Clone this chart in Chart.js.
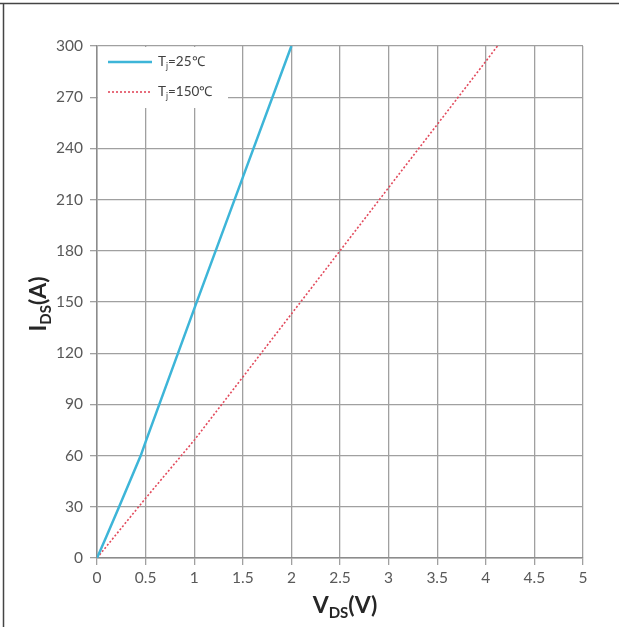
<!DOCTYPE html>
<html>
<head>
<meta charset="utf-8">
<script src="https://cdn.jsdelivr.net/npm/chart.js@4"></script>
<style>
html,body{margin:0;padding:0;background:#fff;}
#wrap{position:relative;width:619px;height:627px;}
canvas{display:block;}
</style>
</head>
<body>
<div id="wrap"><canvas id="c" width="619" height="627"></canvas></div>
<script>
// ---- data ----
const vds25  = [0, 0.1, 0.22, 0.45, 0.5, 1.0, 1.5, 2.0];
const ids25  = [0, 13, 29, 60, 68, 146, 223, 300];
const vds150 = [0, 0.5, 1.0, 1.5, 2.0, 2.5, 3.0, 3.5, 4.0, 4.12];
const ids150 = [0, 35, 69, 106, 143, 180, 217, 254, 291, 300];
const xTicks = [0, 0.5, 1, 1.5, 2, 2.5, 3, 3.5, 4, 4.5, 5];
const yTicks = [0, 30, 60, 90, 120, 150, 180, 210, 240, 270, 300];
const legendLabels = [["T", "j", "=25\u2103"], ["T", "j", "=150\u2103"]];
const xTitle = ["V", "DS", "(V)"];
const yTitle = ["I", "DS", "(A)"];

const FONT = "Lato, 'Open Sans', sans-serif";
const blue = "#3db5d8";
const red = "#e24a5c";

function drawSub(ctx, parts, x, y, big, small, weight, align) {
  ctx.font = weight + " " + big + "px " + FONT;
  const w0 = ctx.measureText(parts[0]).width;
  const w2 = ctx.measureText(parts[2]).width;
  ctx.font = weight + " " + small + "px " + FONT;
  const w1 = ctx.measureText(parts[1]).width;
  const total = w0 + w1 + w2;
  let sx = align === "center" ? x - total / 2 : x;
  ctx.textBaseline = "alphabetic";
  ctx.textAlign = "left";
  ctx.font = weight + " " + big + "px " + FONT;
  ctx.fillText(parts[0], sx, y);
  ctx.font = weight + " " + small + "px " + FONT;
  ctx.fillText(parts[1], sx + w0, y + big * 0.22);
  ctx.font = weight + " " + big + "px " + FONT;
  ctx.fillText(parts[2], sx + w0 + w1, y);
}

const overlay = {
  id: "overlay",
  beforeDatasetsDraw(chart) {
    const ctx = chart.ctx;
    const a = chart.chartArea;
    ctx.save();
    // legend box (covers gridlines)
    ctx.fillStyle = "#fff";
    ctx.fillRect(a.left + 1, a.top + 1, 130, 61);
    const items = [
      {color: blue, dash: [], width: 2.5, y: a.top + 16},
      {color: red, dash: [2, 2], width: 1.6, y: a.top + 46}
    ];
    items.forEach((it, i) => {
      ctx.strokeStyle = it.color;
      ctx.lineWidth = it.width;
      ctx.setLineDash(it.dash);
      ctx.beginPath();
      ctx.moveTo(a.left + 11, it.y);
      ctx.lineTo(a.left + 55, it.y);
      ctx.stroke();
      ctx.setLineDash([]);
      ctx.fillStyle = "#404040";
      drawSub(ctx, legendLabels[i], a.left + 61, it.y + 4, 13.5, 8.5, "normal", "left");
    });
    ctx.restore();
  },
  afterDraw(chart) {
    const ctx = chart.ctx;
    const a = chart.chartArea;
    ctx.save();
    // outer frame (top and left)
    ctx.strokeStyle = "#444";
    ctx.lineWidth = 1.5;
    ctx.beginPath();
    ctx.moveTo(0, 3.5); ctx.lineTo(619, 3.5);
    ctx.moveTo(3.5, 3.5); ctx.lineTo(3.5, 627);
    ctx.stroke();
    // axis titles
    ctx.fillStyle = "#262626";
    drawSub(ctx, xTitle, (a.left + a.right) / 2 + 5, 613, 23, 15, "bold", "center");
    ctx.translate(46, (a.top + a.bottom) / 2 + 2);
    ctx.rotate(-Math.PI / 2);
    drawSub(ctx, yTitle, 0, 0, 23, 15, "bold", "center");
    ctx.restore();
  }
};

new Chart(document.getElementById("c"), {
  type: "scatter",
  data: {
    datasets: [
      {
        label: "25",
        data: vds25.map((v, i) => ({x: v, y: ids25[i]})),
        showLine: true, borderColor: blue, borderWidth: 2.5,
        pointRadius: 0, tension: 0, fill: false
      },
      {
        label: "150",
        data: vds150.map((v, i) => ({x: v, y: ids150[i]})),
        showLine: true, borderColor: red, borderWidth: 1.6, borderDash: [2, 2],
        pointRadius: 0, tension: 0, fill: false
      }
    ]
  },
  options: {
    responsive: false,
    animation: false,
    layout: {padding: {top: 46, right: 36, left: 0, bottom: 0}},
    plugins: {legend: {display: false}, tooltip: {enabled: false}, title: {display: false}},
    scales: {
      x: {
        type: "linear", min: 0, max: 5,
        afterBuildTicks: s => { s.ticks = xTicks.map(v => ({value: v})); },
        afterFit: s => { s.height = 69; },
        grid: {color: "#a0a0a0", lineWidth: 1.3, tickLength: 7, drawTicks: true},
        border: {color: "#8c8c8c", width: 1.5},
        ticks: {color: "#595959", font: {family: FONT, size: 15.5}, padding: 4, maxRotation: 0,
                callback: v => String(v)}
      },
      y: {
        type: "linear", min: 0, max: 300,
        afterBuildTicks: s => { s.ticks = yTicks.map(v => ({value: v})); },
        afterFit: s => { s.width = 97; },
        grid: {color: "#a0a0a0", lineWidth: 1.3, tickLength: 7, drawTicks: true},
        border: {color: "#8c8c8c", width: 1.5},
        ticks: {color: "#595959", font: {family: FONT, size: 15.5}, padding: 7,
                callback: v => String(v)}
      }
    }
  },
  plugins: [overlay]
});
</script>
</body>
</html>
